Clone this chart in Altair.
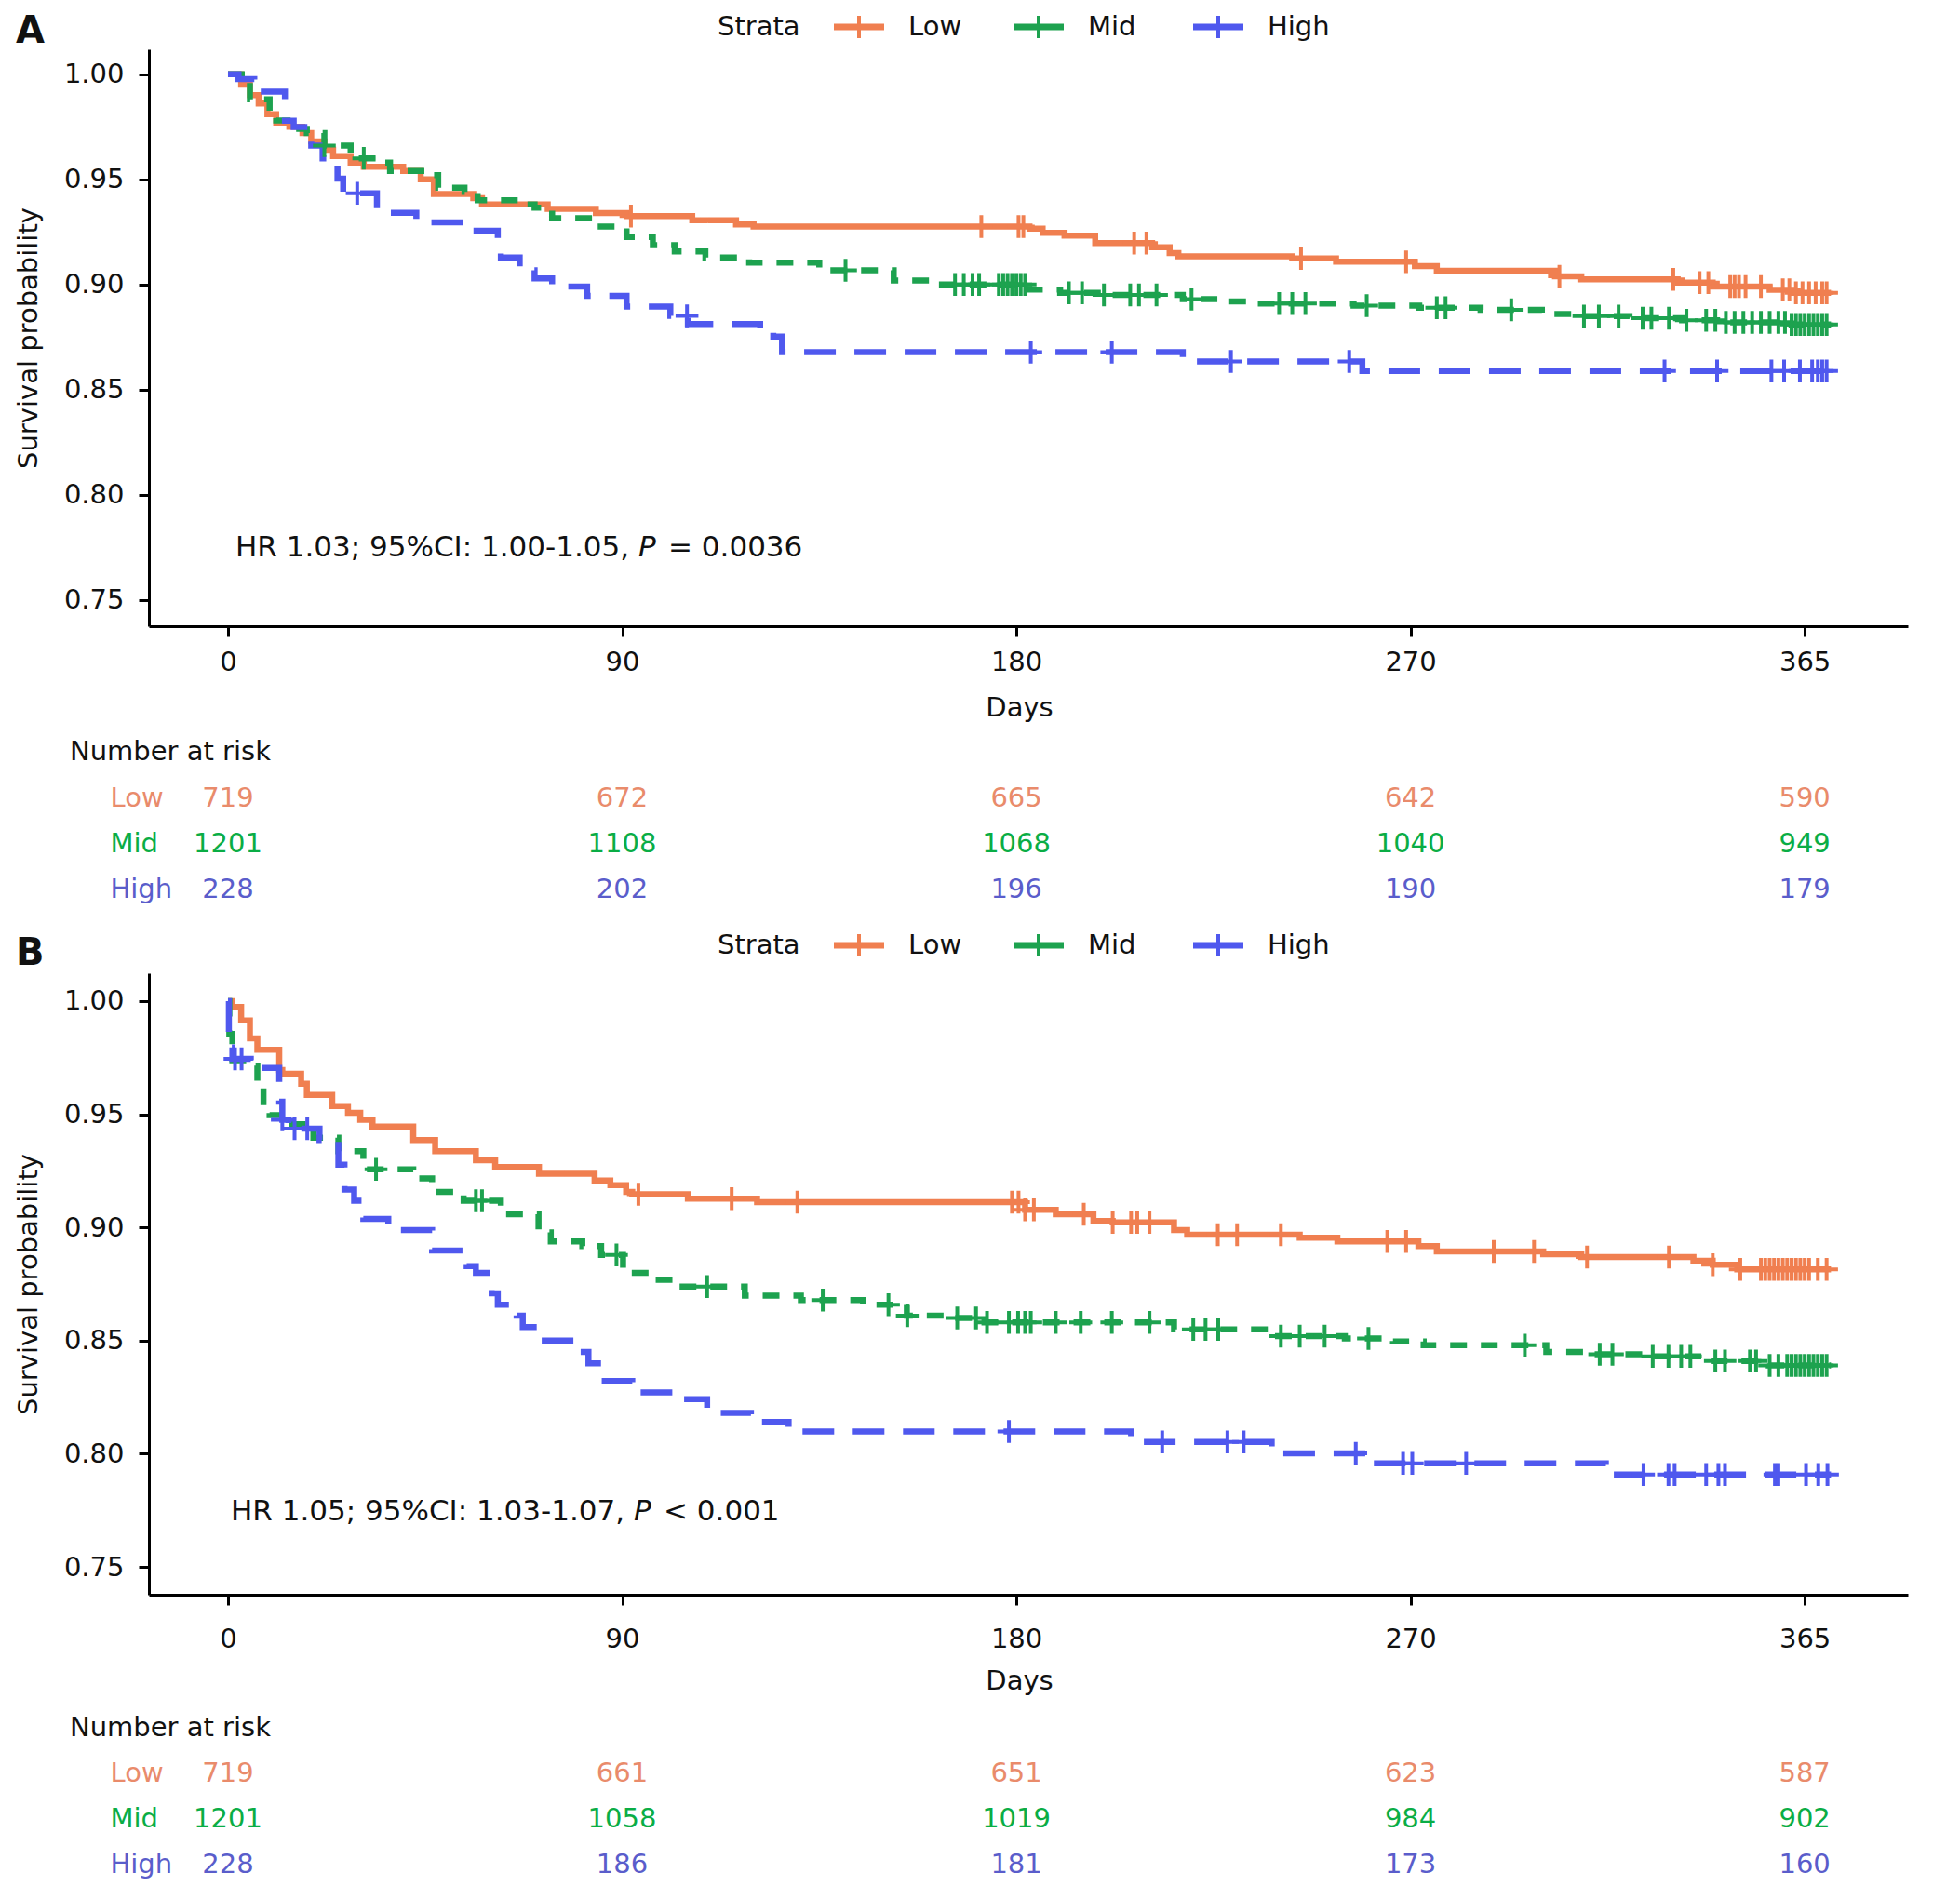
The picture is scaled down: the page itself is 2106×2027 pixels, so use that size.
import altair as alt
import pandas as pd

# ---------------- data ----------------
STRATA = ["Low", "Mid", "High"]
LINE_COLORS = ["#F07F50", "#1DA24F", "#4F58EE"]
TABLE_COLORS = ["#E98B6B", "#0AAD45", "#5A5DCB"]
DASHES = [[1, 0], [18, 15], [34, 20]]
TICK_POS = [0, 90, 180, 270, 360]
TICK_LABELS = ["0", "90", "180", "270", "365"]
Y_TICKS = [0.75, 0.80, 0.85, 0.90, 0.95, 1.00]

# Panel A curves (day, survival)
A_LOW_T = [0, 3, 5, 7, 9, 11, 14, 17, 19, 22, 24, 28, 31, 40, 44, 47, 56, 58, 73, 84,
           91, 106, 116, 120, 183, 186, 191, 198, 211, 215, 217, 243, 253, 271, 276, 303, 309, 331, 339, 352,
           357, 366]
A_LOW_S = [1.000, 0.995, 0.990, 0.986, 0.981, 0.977, 0.975, 0.972, 0.968, 0.964, 0.961, 0.958, 0.956, 0.954, 0.950,
           0.943, 0.941, 0.938, 0.936, 0.934, 0.9325, 0.9305, 0.9286, 0.9276, 0.9266, 0.9246, 0.9232, 0.9197, 0.9177,
           0.9150, 0.9134, 0.9124, 0.9108, 0.9088, 0.9065, 0.9039, 0.9025, 0.9009, 0.8990, 0.8975, 0.8960, 0.8960]
A_LOW_C = [92, 172, 180.5, 181.6, 206.9, 209.7, 245, 269, 304, 330, 336, 338, 343, 344, 345, 346.5, 350, 355,
           356.5, 358, 359.5, 361, 362.5, 364, 365]

A_MID_T = [0, 5, 9.5, 11, 15, 18, 22, 28, 34, 37, 45, 48, 54, 57, 68, 70, 74, 84, 91, 97,
           102, 109, 119, 135, 152, 162, 183, 190, 200, 218, 228, 235, 257, 272, 286, 300, 307, 320, 332, 340,
           357, 366]
A_MID_S = [1.0, 0.988, 0.982, 0.978, 0.974, 0.972, 0.966, 0.960, 0.958, 0.954, 0.952, 0.946, 0.944, 0.940, 0.938,
           0.9365, 0.9315, 0.9276, 0.9226, 0.9187, 0.9157, 0.9128, 0.9104, 0.9068, 0.9019, 0.900, 0.8976, 0.896,
           0.895, 0.893, 0.892, 0.891, 0.890, 0.889, 0.888, 0.886, 0.885, 0.884, 0.883, 0.882, 0.881, 0.881]
A_MID_C = [22, 31, 141, 166, 168, 170, 171.5, 176, 177, 178, 179, 180, 181, 182, 192, 195, 200, 206, 208, 212,
           220, 240, 243, 246, 260, 276, 278, 293, 309.6, 313, 317.5, 323, 325, 329, 333, 337.5, 339.6, 342, 344,
           346, 348, 350, 352, 354, 355.5, 357, 358, 359, 360, 361, 362, 363, 364, 365]

A_HIGH_T = [0, 2.4, 6, 13, 15, 19, 21.6, 25, 26.3, 34, 43, 54, 61.6, 62.3, 66.6, 70, 74, 82, 91, 101,
            105, 121.5, 124.5, 126.5, 218, 259, 366]
A_HIGH_S = [1.0, 0.9976, 0.9917, 0.9779, 0.9749, 0.966, 0.960, 0.9503, 0.9434, 0.9341, 0.9295, 0.9256, 0.9167,
            0.9128, 0.9068, 0.9029, 0.899, 0.8946, 0.8895, 0.8851, 0.8812, 0.8772, 0.8753, 0.8678, 0.8634, 0.8589,
            0.8589]
A_HIGH_C = [29.5, 104.8, 183.3, 201.8, 229, 256, 328, 340, 352.4, 355.3, 358.9, 361.7, 363, 364, 365]

# Panel B curves
B_LOW_T = [0, 0.9, 3, 5, 6.7, 11.7, 12.4, 16.7, 18, 23.8, 27.4, 30.2, 33, 42.3, 47.3, 56.6, 61, 71, 83.7, 87.3,
           90.9, 92.3, 105, 120.8, 182, 189, 197.6, 202, 216, 219, 244.7, 253.3, 271.8, 276, 300.3, 309, 334.6,
           339, 344.6, 366]
B_LOW_S = [1.0, 0.9974, 0.9914, 0.9835, 0.9785, 0.9695, 0.9679, 0.9635, 0.9586, 0.9536, 0.9506, 0.9476, 0.9446,
           0.9386, 0.9337, 0.9297, 0.9267, 0.9237, 0.9207, 0.9187, 0.9157, 0.9147, 0.9127, 0.9112, 0.9078, 0.9058,
           0.9028, 0.9022, 0.8988, 0.8968, 0.8954, 0.8938, 0.8918, 0.8894, 0.8882, 0.8869, 0.8853, 0.8835, 0.8815,
           0.8815]
B_LOW_C = [93.7, 115, 130, 179, 180.5, 182, 184, 195.4, 202, 206.2, 207.6, 210.4, 226, 230.4, 240.4, 264.7, 269,
           289, 298.2, 310.3, 329, 339, 345.3, 350, 351, 352, 353, 354, 355, 356, 357, 358, 359, 360, 361, 363, 365]

B_MID_T = [0, 0.3, 1, 5.2, 6.7, 8.1, 9.5, 13.8, 19.5, 25.2, 30.9, 42.3, 46.6, 53.8, 62.3, 70.9, 73.7, 80.9, 85.2,
           90.2, 96.6, 102.3, 118, 130.8, 145, 155, 165, 172, 216, 237.6, 255, 266, 273, 301, 309.6, 323, 337.5,
           351.8, 366]
B_MID_S = [1.0, 0.9855, 0.9735, 0.9715, 0.9635, 0.9516, 0.9496, 0.9456, 0.9396, 0.9337, 0.9257, 0.9217, 0.9157,
           0.9118, 0.9058, 0.8978, 0.8938, 0.8918, 0.8878, 0.8799, 0.8769, 0.8739, 0.8699, 0.8679, 0.8659, 0.861,
           0.860, 0.858, 0.855, 0.852, 0.851, 0.8496, 0.848, 0.845, 0.844, 0.843, 0.841, 0.839, 0.839]
B_MID_C = [33.8, 56.6, 58, 88.7, 109.4, 135.8, 150.8, 155.1, 166.5, 170.8, 173.3, 178.3, 180.4, 182, 183.3, 189,
           194.7, 201.8, 210.4, 220.4, 223.2, 226.1, 240.4, 244.7, 250.4, 260.4, 296.1, 313.2, 316.1, 325.3, 328.9,
           331.8, 333.9, 339.6, 341.8, 347.5, 348.9, 352, 354, 356, 357, 358, 359, 360, 361, 362, 363, 364, 365]

B_HIGH_T = [0, 0.2, 1, 5.2, 11.7, 12.4, 13.8, 20.9, 25.2, 26.6, 28.8, 30.9, 36.6, 46.6, 54.5, 56.6, 60.2, 61.6,
            65.9, 67.3, 71.6, 79.5, 82.3, 85.2, 92.3, 103.7, 109.4, 119.4, 128, 206.2, 238.3, 260.4, 314.6, 366]
B_HIGH_S = [1.0, 0.9795, 0.9745, 0.9705, 0.9556, 0.9476, 0.9436, 0.9386, 0.9277, 0.9167, 0.9118, 0.9038, 0.8988,
            0.8898, 0.8829, 0.8799, 0.8709, 0.8659, 0.861, 0.856, 0.850, 0.845, 0.840, 0.8321, 0.8271, 0.8241,
            0.8181, 0.8141, 0.8098, 0.8052, 0.8002, 0.7958, 0.7908, 0.7908]
B_HIGH_C = [1.6, 3.1, 12.4, 15.2, 18.1, 178.3, 213.3, 228.2, 231.9, 257.5, 268.3, 270.4, 282.7, 323.2, 328.9,
            330.3, 337.5, 340.3, 341.8, 353.2, 354, 360.3, 363.1, 365.2]

# Number at risk
A_RISK_LOW = [719, 672, 665, 642, 590]
A_RISK_MID = [1201, 1108, 1068, 1040, 949]
A_RISK_HIGH = [228, 202, 196, 190, 179]
B_RISK_LOW = [719, 661, 651, 623, 587]
B_RISK_MID = [1201, 1058, 1019, 984, 902]
B_RISK_HIGH = [228, 186, 181, 173, 160]

A_HR = ["HR 1.03; 95%CI: 1.00-1.05,", "P", "= 0.0036"]
B_HR = ["HR 1.05; 95%CI: 1.03-1.07,", "P", "< 0.001"]

# ---------------- styling ----------------
FONT = "DejaVu Sans"
TXT = "#111111"
W = 1890
X_DOMAIN = [-18.06, 383.56]
CROSS = "M0,-1L0,1M-1,0L1,0"
LABEL_EXPR = "".join(f"datum.value == {p} ? '{l}' : " for p, l in zip(TICK_POS, TICK_LABELS)) + "datum.label"


def step_value(ts, ss, t):
    v = ss[0]
    for ti, si in zip(ts, ss):
        if ti <= t:
            v = si
        else:
            break
    return v


def one(text):
    return pd.DataFrame({"txt": [text]})


def make_panel(tag, curves, cens, risk, hr, g):
    rows = []
    crow = []
    for name, col, (ts, ss), cs in zip(STRATA, LINE_COLORS, curves, cens):
        for t, s in zip(ts, ss):
            rows.append({"strata": name, "t": t, "s": s})
        for c in cs:
            crow.append({"strata": name, "col": col, "t": c, "s": step_value(ts, ss, c)})
    cdf = pd.DataFrame(rows)
    kdf = pd.DataFrame(crow)

    X = alt.X("t:Q", scale=alt.Scale(domain=X_DOMAIN, nice=False, zero=False),
              axis=alt.Axis(values=TICK_POS, labelExpr=LABEL_EXPR, title="Days", titleX=935,
                            labelFlush=False, labelPadding=g["xlab_pad"], titlePadding=g["xtitle_pad"]))
    Y = alt.Y("s:Q", scale=alt.Scale(domain=g["ydom"], nice=False, zero=False),
              axis=alt.Axis(values=Y_TICKS, format=".2f", title="Survival probability",
                            labelPadding=16, titlePadding=23))

    layers = []
    layers.append(
        alt.Chart(cdf).mark_line(interpolate="step-after", strokeWidth=6.5).encode(
            x=X, y=Y,
            color=alt.Color("strata:N", scale=alt.Scale(domain=STRATA, range=LINE_COLORS), legend=None),
            strokeDash=alt.StrokeDash("strata:N", scale=alt.Scale(domain=STRATA, range=DASHES), legend=None),
            order=alt.Order("t:Q"),
        )
    )
    layers.append(
        alt.Chart(kdf).mark_point(shape=CROSS, size=600, strokeWidth=4, filled=False, opacity=1).encode(
            x=X, y=Y, color=alt.Color("col:N", scale=None)
        )
    )
    # HR annotation
    hx, hy = g["hr_xy"]
    layers.append(alt.Chart(one(hr[0])).mark_text(font=FONT, fontSize=31, color=TXT, align="left",
                                                  baseline="middle").encode(
        text="txt:N", x=alt.value(hx), y=alt.value(hy)))
    layers.append(alt.Chart(one(hr[1])).mark_text(font=FONT, fontSize=31, color=TXT, align="left",
                                                  baseline="middle", fontStyle="italic").encode(
        text="txt:N", x=alt.value(hx + 433), y=alt.value(hy)))
    layers.append(alt.Chart(one(hr[2])).mark_text(font=FONT, fontSize=31, color=TXT, align="left",
                                                  baseline="middle").encode(
        text="txt:N", x=alt.value(hx + 465), y=alt.value(hy)))
    # panel tag
    layers.append(alt.Chart(one(tag)).mark_text(font=FONT, fontSize=40, fontWeight="bold", color=TXT,
                                                align="left", baseline="middle").encode(
        text="txt:N", x=alt.value(-143), y=alt.value(g["tag_y"])))
    # legend
    ly = g["leg_y"]
    layers.append(alt.Chart(one("Strata")).mark_text(font=FONT, fontSize=29, color=TXT, align="left",
                                                     baseline="middle").encode(
        text="txt:N", x=alt.value(611), y=alt.value(ly)))
    for i, (name, col) in enumerate(zip(STRATA, LINE_COLORS)):
        x0 = 736 + 193 * i
        layers.append(alt.Chart(one(name)).mark_rule(color=col, strokeWidth=7).encode(
            x=alt.value(x0), x2=alt.value(x0 + 54), y=alt.value(ly)))
        layers.append(alt.Chart(one(name)).mark_rule(color=col, strokeWidth=4).encode(
            x=alt.value(x0 + 27), y=alt.value(ly - 12), y2=alt.value(ly + 12)))
        layers.append(alt.Chart(one(name)).mark_text(font=FONT, fontSize=29, color=TXT, align="left",
                                                     baseline="middle").encode(
            text="txt:N", x=alt.value(x0 + 80), y=alt.value(ly)))
    # risk table
    layers.append(alt.Chart(one("Number at risk")).mark_text(font=FONT, fontSize=29, color=TXT, align="left",
                                                             baseline="middle").encode(
        text="txt:N", x=alt.value(-85), y=alt.value(g["risk_title_y"])))
    for name, tcol, counts, ry in zip(STRATA, TABLE_COLORS, risk, g["risk_rows"]):
        rdf = pd.DataFrame({"t": TICK_POS, "n": [str(c) for c in counts]})
        layers.append(alt.Chart(rdf).mark_text(font=FONT, fontSize=29, color=tcol, align="center",
                                               baseline="middle").encode(
            x=X, text="n:N", y=alt.value(ry)))
        layers.append(alt.Chart(one(name)).mark_text(font=FONT, fontSize=29, color=tcol, align="left",
                                                     baseline="middle").encode(
            text="txt:N", x=alt.value(-41.5), y=alt.value(ry)))

    return alt.layer(*layers).properties(width=W, height=g["h"])


geomA = dict(h=620, ydom=[0.7376, 1.0118], xlab_pad=13, xtitle_pad=20, hr_xy=(93, 536), tag_y=-19,
             leg_y=-24, risk_title_y=755, risk_rows=[805, 854, 903])
geomB = dict(h=668, ydom=[0.7377, 1.0123], xlab_pad=22, xtitle_pad=16, hr_xy=(88, 579), tag_y=-21,
             leg_y=-30, risk_title_y=811, risk_rows=[860, 909, 958])

panelA = make_panel("A",
                    [(A_LOW_T, A_LOW_S), (A_MID_T, A_MID_S), (A_HIGH_T, A_HIGH_S)],
                    [A_LOW_C, A_MID_C, A_HIGH_C],
                    [A_RISK_LOW, A_RISK_MID, A_RISK_HIGH], A_HR, geomA)
panelB = make_panel("B",
                    [(B_LOW_T, B_LOW_S), (B_MID_T, B_MID_S), (B_HIGH_T, B_HIGH_S)],
                    [B_LOW_C, B_MID_C, B_HIGH_C],
                    [B_RISK_LOW, B_RISK_MID, B_RISK_HIGH], B_HR, geomB)

chart = alt.vconcat(panelA, panelB, spacing=373, bounds="flush").resolve_scale(
    x="independent", y="independent", color="independent", strokeDash="independent"
).properties(padding={"left": 8, "top": 6, "right": 4, "bottom": 4}).configure_view(stroke=None).configure_axis(
    domainColor="#000000", domainWidth=3, tickColor="#000000", tickWidth=3, tickSize=11,
    labelFont=FONT, labelFontSize=29, labelColor=TXT,
    titleFont=FONT, titleFontSize=29, titleFontWeight="normal", titleColor=TXT, grid=False
)

chart.save("out.html", embed_options={"renderer": "svg", "actions": False})
